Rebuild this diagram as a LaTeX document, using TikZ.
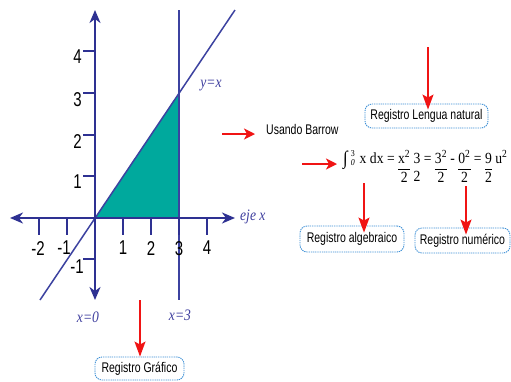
\documentclass[tikz,border=0pt]{standalone}
\usepackage{fontspec}
\setmainfont{Liberation Serif}
\newfontfamily\nar[FakeStretch=0.75]{Liberation Sans}
\newfontfamily\fser[FakeStretch=0.88]{Liberation Serif}
\newfontfamily\lser[FakeStretch=0.85]{Liberation Serif}
\usetikzlibrary{arrows.meta}
\definecolor{axblue}{RGB}{46,49,146}
\definecolor{lnblue}{RGB}{60,66,160}
\definecolor{labblue}{RGB}{63,63,159}
\definecolor{tealf}{RGB}{0,169,157}
\definecolor{redar}{RGB}{240,20,20}
\definecolor{boxblue}{RGB}{60,143,214}
\newcommand\fbar[2]{\begin{tabular}[t]{@{}c@{}}#1\\\hline #2\end{tabular}}
\newcommand\fnob[2]{\begin{tabular}[t]{@{}c@{}}#1\\ #2\end{tabular}}
\tikzset{
  axis/.style={draw=axblue, line width=2pt, {Stealth[length=13pt,width=11pt,inset=4pt]}-{Stealth[length=13pt,width=11pt,inset=4pt]}},
  guide/.style={draw=lnblue, line width=1.5pt},
  tick/.style={draw=axblue, line width=1.6pt},
  num/.style={inner sep=0pt, font=\nar\fontsize{20}{22}\selectfont},
  itlab/.style={inner sep=0pt, text=labblue, font=\lser\itshape\fontsize{16}{18}\selectfont},
  regbox/.style={draw=boxblue, line width=0.9pt, dash pattern=on 1.3pt off 0.9pt, rounded corners=7pt, inner sep=0pt, font=\nar\fontsize{14}{16}\selectfont},
  redarrow/.style={draw=redar, line width=1.5pt, -{Stealth[length=15pt,width=11pt,inset=3pt]}},
  redharrow/.style={draw=redar, line width=1.5pt, -{Stealth[length=11pt,width=11pt,inset=3pt]}},
}
\begin{document}
\begin{tikzpicture}[x=1pt,y=-1pt]
\useasboundingbox[fill=white] (0,0) rectangle (511,381);
% shaded area
\fill[tealf] (95,218) -- (179,218) -- (179,93) -- cycle;
% guide lines
\draw[guide] (40,300) -- (235,10);
\draw[guide] (179,10) -- (179,300);
% axes
\draw[axis] (10,218) -- (235,218);
\draw[axis] (95,300) -- (95,10);
% y ticks
\foreach \yy/\lab in {51/4,93/3,135/2,176/1} {
  \draw[tick] (83,\yy) -- (95,\yy);
  \node[num, anchor=north east] (ylab\lab) at (82,\yy-1) {\lab};
}
\draw[tick] (83,259) -- (95,259);
\node[num, anchor=north east] (ylabm1) at (84,260) {-1};
% x ticks
\foreach \xx/\lab in {123/1,151/2,179/3,207/4} {
  \draw[tick] (\xx,218) -- (\xx,235);
  \node[num, anchor=north] (xlab\lab) at (\xx,241) {\lab};
}
\draw[tick] (39,218) -- (39,235);
\node[num, anchor=north] (xlabm2) at (38,241) {-2};
\draw[tick] (67,218) -- (67,235);
\node[num, anchor=north] (xlabm1) at (64,241) {-1};
% italic labels
\node[itlab] (yx) at (211,86) {y=x};
\node[itlab, anchor=west] (ejex) at (240,217) {eje x};
\node[itlab] (x0) at (88,317) {x=0};
\node[itlab] (x3) at (180,315) {x=3};
% boxes
\node[regbox, minimum width=89pt, minimum height=23pt] (graf) at (139.5,368.5) {Registro Gráfico};
\node[regbox, minimum width=123pt, minimum height=24pt] (leng) at (426.5,116) {Registro Lengua natural};
\node[regbox, minimum width=104pt, minimum height=26pt] (alg) at (352,239) {Registro algebraico};
\node[regbox, minimum width=95pt, minimum height=25pt] (numr) at (462.5,240.5) {Registro numérico};
% Barrow
\node[anchor=west, inner sep=0pt, font=\nar\fontsize{14}{16}\selectfont] (barrow) at (266,129) {Usando Barrow};
% formula
\node[anchor=base west, inner sep=0pt, font=\fser\fontsize{15.5}{18.5}\selectfont] (form) at (343,163)
  {\setlength\arrayrulewidth{0.9pt}%
   \raisebox{-1pt}{\fontsize{19}{20}\selectfont ∫}\hspace{3pt}\makebox[0pt][l]{\raisebox{6.5pt}{\fontsize{9}{10}\selectfont 3}}\raisebox{-2.5pt}{\fontsize{9}{10}\selectfont\itshape 0}\hspace{5pt}x dx = \fbar{x\textsuperscript{2}}{2} \fnob{3}{2} = \fbar{3\textsuperscript{2}}{2} - \fbar{0\textsuperscript{2}}{2} = \fbar{9}{2} u\textsuperscript{2}};
% red arrow start points
\coordinate (sGraf) at (140,300);
\coordinate (sBar) at (222,134);
\coordinate (eBar) at (255,134);
\coordinate (sForm) at (302,164);
\coordinate (eForm) at (337,164);
\coordinate (sLeng) at (428,47);
\coordinate (sAlg) at (364,183);
\coordinate (sNum) at (466,186);
\draw[redarrow] (sGraf) -- (graf.north -| sGraf);
\draw[redharrow] (sBar) -- (eBar);
\draw[redharrow] (sForm) -- (eForm);
\draw[redarrow] (sLeng) -- ([yshift=-6pt]leng.north -| sLeng);
\draw[redarrow] (sAlg) -- ([yshift=-7pt]alg.north -| sAlg);
\draw[redarrow] (sNum) -- ([yshift=-7pt]numr.north -| sNum);
\end{tikzpicture}
\end{document}
